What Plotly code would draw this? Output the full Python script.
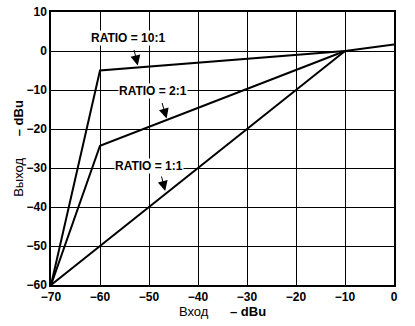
import plotly.graph_objects as go

# data
x_10 = [-70, -60, -10, 0]
y_10 = [-60, -5, 0, 1.7]
x_2 = [-70, -60, -10]
y_2 = [-60, -24.3, 0]
x_1 = [-70, -10]
y_1 = [-60, 0]

x_ticks = [-70, -60, -50, -40, -30, -20, -10, 0]
y_ticks = [-60, -50, -40, -30, -20, -10, 0, 10]

labels = ["RATIO = 10:1", "RATIO = 2:1", "RATIO = 1:1"]
label_pos = [(-54.3, 3.3), (-49.2, -10.3), (-50.1, -29.4)]
arrow_tips = [(-52.3, -3.7), (-46.4, -17.3), (-46.7, -35.9)]
arrow_tails = [(-4, -17), (-5, -17), (-4, -16)]

fig = go.Figure()
for xs, ys in [(x_10, y_10), (x_2, y_2), (x_1, y_1)]:
    fig.add_trace(go.Scatter(x=xs, y=ys, mode="lines",
                             line=dict(color="black", width=2), showlegend=False,
                             hoverinfo="skip"))

FAM = "Liberation Sans, Arial, sans-serif"
font_b = dict(family=FAM, size=12, color="black")

for t, (lx, ly) in zip(labels, label_pos):
    fig.add_annotation(x=lx, y=ly, text="<b>%s</b>" % t, showarrow=False,
                       bgcolor="white", font=font_b, borderpad=0)
for (tx, ty), (ax, ay) in zip(arrow_tips, arrow_tails):
    fig.add_annotation(x=tx, y=ty, text="", showarrow=True, ax=ax, ay=ay,
                       arrowhead=2, arrowsize=2, arrowwidth=1, arrowcolor="black")

axis_common = dict(showgrid=True, gridcolor="black", gridwidth=1,
                   showline=True, linecolor="black", linewidth=1.5, mirror=True,
                   zeroline=False, ticks="", tickfont=font_b, automargin=False)

sp = "\u00a0" * 6
fig.update_xaxes(range=[-70, 0], tickvals=x_ticks,
                 ticktext=["<b>\u221270</b>", "<b>\u221260</b>", "<b>\u221250</b>", "<b>\u221240</b>",
                           "<b>\u221230</b>", "<b>\u221220</b>", "<b>\u221210</b>", "<b>0</b>"],
                 title=dict(text="Вход" + sp + "<b>\u2013 dBu</b>", standoff=2,
                            font=dict(family=FAM, size=13, color="black")),
                 **axis_common)
fig.update_yaxes(range=[-60, 10], tickvals=y_ticks,
                 ticktext=["<b>\u221260</b>", "<b>\u221250</b>", "<b>\u221240</b>", "<b>\u221230</b>",
                           "<b>\u221220</b>", "<b>\u221210</b>", "<b>0</b>", "<b>10</b>"],
                 title=dict(text="Выход" + sp + "<b>\u2013 dBu</b>", standoff=0,
                            font=dict(family=FAM, size=13, color="black")),
                 **axis_common)

fig.update_layout(width=415, height=326, margin=dict(l=51, r=21, t=12, b=41),
                  plot_bgcolor="white", paper_bgcolor="white")

fig.write_html("out.html")
